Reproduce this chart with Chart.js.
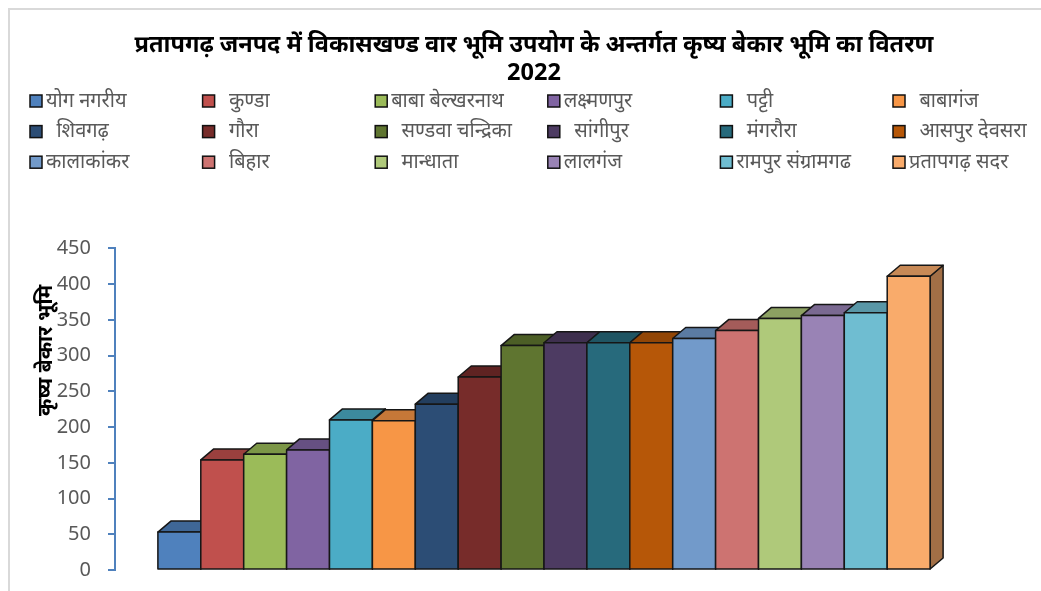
<!DOCTYPE html>
<html>
<head>
<meta charset="utf-8">
<title>कृष्य बेकार भूमि 2022</title>
<script src="https://cdn.jsdelivr.net/npm/chart.js@4.4.1/dist/chart.umd.min.js"></script>
<style>
  html, body { margin: 0; padding: 0; background: #fff; }
  #wrap { position: relative; width: 1041px; height: 591px; overflow: hidden; }
  #frame {
    position: absolute; left: 8px; top: 8px; right: -4px; bottom: -4px;
    border-left: 2px solid #d9d9d9; border-top: 2px solid #d9d9d9;
  }
  canvas { position: absolute; left: 0; top: 0; }
</style>
</head>
<body>
<div id="wrap">
  <div id="frame"></div>
  <canvas id="chart" width="1041" height="591"></canvas>
</div>
<script>
/* ─── Data ───────────────────────────────────────────── */
const TITLE_LINES = [
  "प्रतापगढ़ जनपद में विकासखण्ड वार भूमि उपयोग के अन्तर्गत कृष्य बेकार भूमि का वितरण",
  "2022",
];
const Y_TITLE = "कृष्य बेकार भूमि";

const BLOCKS = [
  "योग नगरीय", "  कुण्डा", "बाबा बेल्खरनाथ", "लक्ष्मणपुर", "  पट्टी", "  बाबागंज",
  "  शिवगढ़", "  गौरा", "  सण्डवा चन्द्रिका", "  सांगीपुर", "  मंगरौरा", "  आसपुर देवसरा",
  "कालाकांकर", "  बिहार", "  मान्धाता", "लालगंज", "रामपुर संग्रामगढ", "प्रतापगढ़ सदर",
];
const WASTE_LAND = [53, 154, 162, 168, 210, 209, 232, 270, 314, 318, 318, 318, 324, 335, 352, 356, 360, 411];
const Y_TICKS = [0, 50, 100, 150, 200, 250, 300, 350, 400, 450];

const COLORS = [
  "#4f81bd", "#c0504d", "#9bbb59", "#8064a2", "#4bacc6", "#f79646",
  "#2c4d75", "#772c2a", "#5f7530", "#4d3b62", "#276a7c", "#b65708",
  "#729aca", "#cd7371", "#afc97a", "#9983b5", "#6fbdd1", "#f9ab6b",
];

/* ─── Styling ────────────────────────────────────────── */
const FONT = "'Noto Sans', 'Liberation Sans', Arial, sans-serif";
const AXIS_BLUE = "#4f81bd";
const DX = 13, DY = 11; // depth of the 3D top/side faces

function shade(hex, f) {
  const n = parseInt(hex.slice(1), 16);
  const r = Math.round(((n >> 16) & 255) * f);
  const g = Math.round(((n >> 8) & 255) * f);
  const b = Math.round((n & 255) * f);
  return `rgb(${r},${g},${b})`;
}

function poly(ctx, pts, fill) {
  ctx.beginPath();
  ctx.moveTo(pts[0][0], pts[0][1]);
  for (let i = 1; i < pts.length; i++) ctx.lineTo(pts[i][0], pts[i][1]);
  ctx.closePath();
  ctx.fillStyle = fill;
  ctx.fill();
  ctx.stroke();
}

/* ─── 3D columns: side, top, then front of each bar ──── */
const bars3d = {
  id: "bars3d",
  afterDatasetsDraw(chart) {
    const ctx = chart.ctx;
    ctx.save();
    ctx.lineJoin = "round";
    ctx.lineWidth = 1.5;
    ctx.strokeStyle = "#161616";
    chart.data.datasets.forEach((ds, i) => {
      const bar = chart.getDatasetMeta(i).data[0];
      const { x, y, base, width } = bar.getProps(["x", "y", "base", "width"], true);
      const l = x - width / 2, r = x + width / 2;
      poly(ctx, [[r, y], [r + DX, y - DY], [r + DX, base - DY], [r, base]], shade(COLORS[i], 0.65));
      poly(ctx, [[l, y], [l + DX, y - DY], [r + DX, y - DY], [r, y]], shade(COLORS[i], 0.8));
      poly(ctx, [[l, y], [r, y], [r, base], [l, base]], COLORS[i]);
    });
    ctx.restore();
  },
};

/* ─── Legend in a fixed 6-column grid ────────────────── */
const gridLegend = {
  id: "gridLegend",
  afterDraw(chart) {
    const ctx = chart.ctx;
    const cols = 6, colW = 172.6, left = 30, top = 101, rowH = 30.6, box = 12;
    ctx.save();
    ctx.font = `20px ${FONT}`;
    ctx.textBaseline = "middle";
    chart.data.datasets.forEach((ds, i) => {
      const cx = left + (i % cols) * colW;
      const cy = top + Math.floor(i / cols) * rowH;
      ctx.fillStyle = ds.backgroundColor;
      ctx.strokeStyle = "#111";
      ctx.lineWidth = 1.5;
      ctx.fillRect(cx, cy - box / 2, box, box);
      ctx.strokeRect(cx, cy - box / 2, box, box);
      ctx.fillStyle = "#595959";
      ctx.fillText(ds.label, cx + box + 4, cy);
    });
    ctx.restore();
  },
};

/* ─── Rotated value-axis title ───────────────────────── */
const yTitle = {
  id: "yTitle",
  afterDraw(chart) {
    const ctx = chart.ctx;
    ctx.save();
    ctx.translate(46, chart.chartArea.top + 102);
    ctx.rotate(-Math.PI / 2);
    ctx.font = `bold 21px ${FONT}`;
    ctx.fillStyle = "#000";
    ctx.textAlign = "center";
    ctx.textBaseline = "middle";
    ctx.fillText(Y_TITLE, 0, 0);
    ctx.restore();
  },
};

/* ─── Chart ──────────────────────────────────────────── */
const datasets = BLOCKS.map((name, i) => ({
  label: name,
  data: [WASTE_LAND[i]],
  backgroundColor: COLORS[i],
  borderWidth: 0,
}));

new Chart(document.getElementById("chart"), {
  type: "bar",
  data: { labels: [""], datasets },
  plugins: [bars3d, gridLegend, yTitle],
  options: {
    responsive: false,
    devicePixelRatio: 1,
    animation: false,
    categoryPercentage: 0.9,
    barPercentage: 1.0,
    layout: { padding: { left: 27, right: 0, top: 0, bottom: 21 } },
    plugins: {
      legend: { display: false },
      tooltip: { enabled: false },
      title: {
        display: true,
        text: TITLE_LINES,
        color: "#000",
        font: { family: FONT, size: 23.5, weight: "bold", lineHeight: 1.2 },
        padding: { top: 31, bottom: 161 },
      },
    },
    scales: {
      x: { display: false },
      y: {
        min: 0,
        max: 450,
        afterBuildTicks: (s) => { s.ticks = Y_TICKS.map((v) => ({ value: v })); },
        afterFit: (s) => {
          s.width = 88;
          // label overflow is covered by the layout padding
          s.paddingTop = 0;
          s.paddingBottom = 0;
        },
        ticks: { color: "#595959", font: { family: FONT, size: 20 }, padding: 17 },
        grid: { drawOnChartArea: false, drawTicks: true, tickLength: 7, color: AXIS_BLUE, lineWidth: 2 },
        border: { display: true, color: AXIS_BLUE, width: 2 },
      },
      // empty right-hand axis keeps the plot clear of the right edge
      yRight: {
        position: "right",
        afterFit: (s) => { s.width = 68; s.paddingTop = 0; s.paddingBottom = 0; },
        ticks: { display: false },
        grid: { display: false },
        border: { display: false },
      },
    },
  },
});
</script>
</body>
</html>
